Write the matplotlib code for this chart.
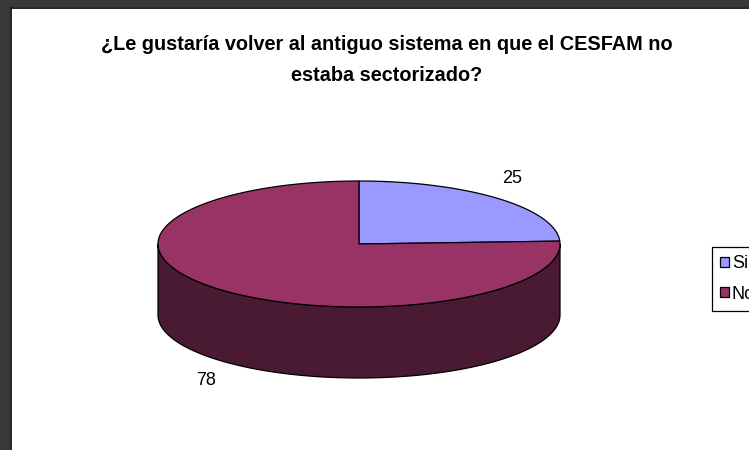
import numpy as np
import matplotlib.pyplot as plt
from matplotlib.patches import Polygon, Rectangle

TITLE = "¿Le gustaría volver al antiguo sistema en que el CESFAM no\nestaba sectorizado?"
labels = ["Si", "No"]
values = [25, 78]
colors = ["#9999FF", "#993366"]
side_colors = ["#4D4D80", "#4A1A33"]

NARROW = ["Liberation Sans Narrow", "Liberation Sans", "DejaVu Sans"]

W, H = 749, 450
fig = plt.figure(figsize=(W / 100, H / 100), dpi=100)
ax = fig.add_axes([0, 0, 1, 1])
ax.set_xlim(0, W)
ax.set_ylim(H, 0)
ax.axis("off")

# dark frame on the left and top edges
ax.add_patch(Rectangle((0, 0), 10, H, facecolor="#383838", edgecolor="none"))
ax.add_patch(Rectangle((0, 0), W, 7, facecolor="#383838", edgecolor="none"))
ax.plot([10.5, 10.5], [7.5, H], color="black", lw=1.2)
ax.plot([10.5, W], [7.5, 7.5], color="black", lw=1.2)

ax.text(387, 60, TITLE, ha="center", va="center", fontsize=14.3,
        fontweight="bold", family=NARROW, linespacing=1.75)

# 3d pie geometry (pixels)
cx, cy = 359, 244
a, b = 201, 63
depth = 71


def ell(t, dy=0):
    t = np.radians(t)
    return np.column_stack([cx + a * np.cos(t), cy - b * np.sin(t) + dy])


total = sum(values)
start = 90.0
wedges = []
for val, col, scol in zip(values, colors, side_colors):
    end = start - val / total * 360.0
    # visible side: part of [end, start] lying in the front half (sin <= 0)
    for k in (-1, 0, 1):
        lo = max(end, -180 + 360 * k)
        hi = min(start, 0 + 360 * k)
        if hi > lo:
            ts = np.linspace(lo, hi, 120)
            pts = np.vstack([ell(ts), ell(ts[::-1], depth)])
            ax.add_patch(Polygon(pts, closed=True, facecolor=scol,
                                 edgecolor="black", lw=0.9))
    wedges.append((start, end, col))
    start = end

handles = []
for (s, e, col), lab, val in zip(wedges, labels, values):
    ts = np.linspace(s, e, 200)
    pts = np.vstack([[cx, cy], ell(ts)])
    p = Polygon(pts, closed=True, facecolor=col, edgecolor="black",
                lw=0.9, label=lab)
    ax.add_patch(p)
    handles.append(p)
    m = np.radians((s + e) / 2)
    lx = cx + a * 1.10 * np.cos(m)
    ly = cy - b * 1.43 * np.sin(m) + (depth if np.sin(m) < 0 else 0)
    ax.text(lx, ly, str(val), ha="center", va="center", fontsize=13,
            family=NARROW)

leg = fig.legend(handles=handles, loc="upper left",
                 bbox_to_anchor=(712 / W, 1 - 247 / H),
                 prop={"family": NARROW, "size": 13},
                 fancybox=False, framealpha=1, edgecolor="black",
                 handlelength=0.5, handleheight=0.5, handletextpad=0.15,
                 labelspacing=0.75, borderpad=0.45, borderaxespad=0)
leg.get_frame().set_linewidth(0.9)

fig.savefig("out.png", dpi=100)
